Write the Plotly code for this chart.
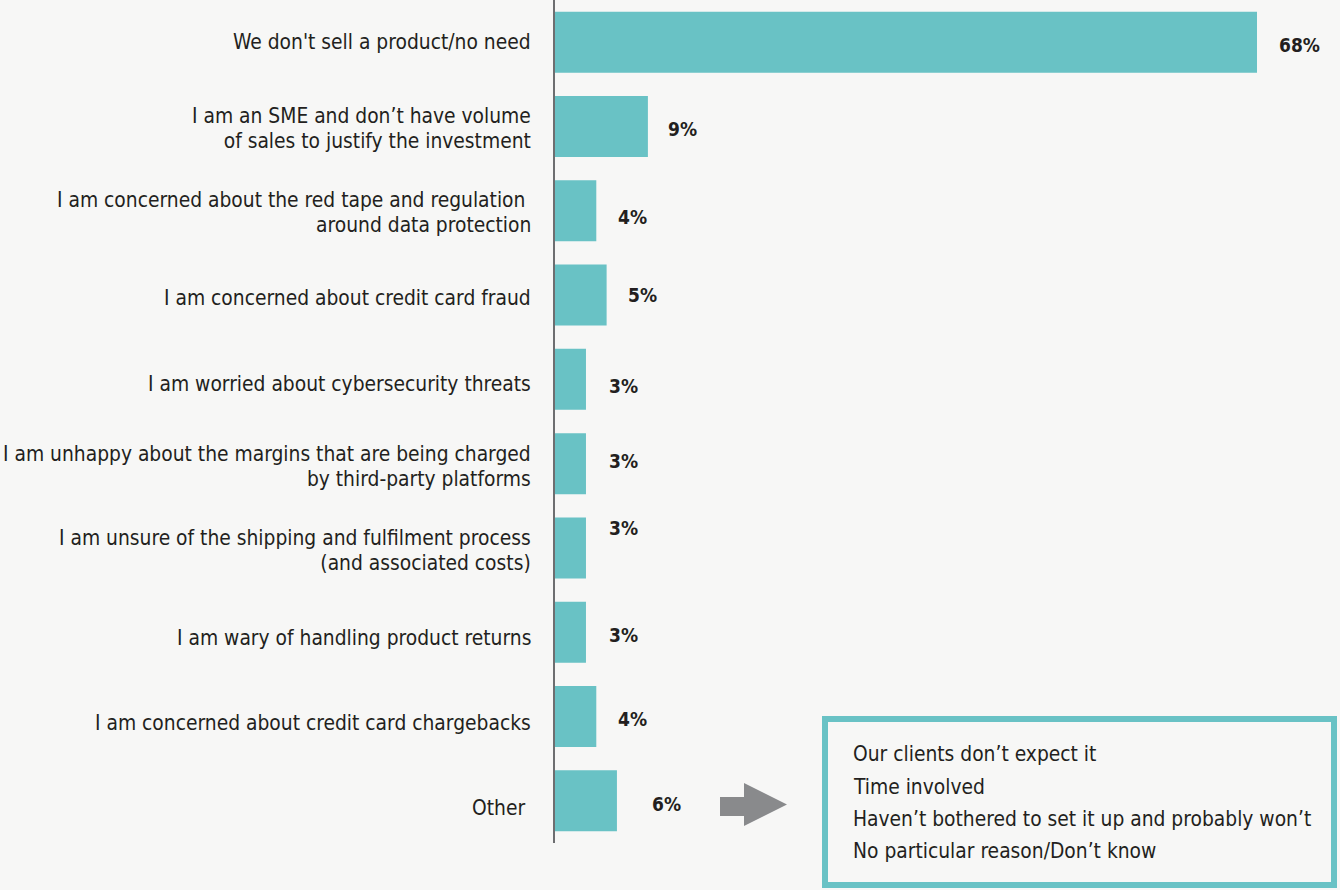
import plotly.graph_objects as go

categories = [
    "We don't sell a product/no need",
    "I am an SME and don\u2019t have volume<br>of sales to justify the investment",
    "I am concerned about the red tape and regulation\u00a0<br>around data protection",
    "I am concerned about credit card fraud",
    "I am worried about cybersecurity threats",
    "I am unhappy about the margins that are being charged<br>by third-party platforms",
    "I am unsure of the shipping and fulfilment process<br>(and associated costs)",
    "I am wary of handling product returns",
    "I am concerned about credit card chargebacks",
    "Other\u00a0",
]
values = [68, 9, 4, 5, 3, 3, 3, 3, 4, 6]
value_labels = ["68%", "9%", "4%", "5%", "3%", "3%", "3%", "3%", "4%", "6%"]
other_reasons = [
    "Our clients don\u2019t expect it",
    "Time involved",
    "Haven\u2019t bothered to set it up and probably won\u2019t",
    "No particular reason/Don\u2019t know",
]

# style: label offsets (pixels)
label_xshift = [20, 18, 20, 19, 21, 21, 21, 21, 20, 33]
label_yshift = [-3, -3, -6, 0, -7, 3, 20, -3, -2, -3]
cat_yshift = [0, -2, -2, -3, -5, -3, -3, -6, -6, -7]

W, H = 1340, 890
ML, MR, MT, MB = 555, 0, 0, 47
PW, PH = W - ML - MR, H - MT - MB
TEAL = "#69c2c5"
TXT = "#231f20"
BG = "#f7f7f6"
FONT = "DejaVu Sans Condensed, Roboto, sans-serif"
CAT_SIZE = 20.8
LINE_BASE = 18.9  # controls spacing between wrapped lines (1.3 * this)


def px(x):
    return (x - ML) / PW


def py(y):
    return (H - MB - y) / PH


ypos = list(range(len(categories)))

fig = go.Figure(
    go.Bar(
        x=values,
        y=ypos,
        orientation="h",
        marker=dict(color=TEAL, line=dict(width=0)),
        hoverinfo="skip",
    )
)

# category labels
for i, cat in enumerate(categories):
    lines = cat.split("<br>")
    n = len(lines)
    txt = "<br>".join(f'<span style="font-size:{CAT_SIZE}px">{ln}</span>' for ln in lines)
    fig.add_annotation(
        xref="paper", yref="y", x=px(533), y=ypos[i], text=txt,
        showarrow=False, xanchor="right", yanchor="middle", align="right",
        yshift=cat_yshift[i],
        font=dict(size=LINE_BASE if n > 1 else CAT_SIZE, color=TXT, family=FONT),
    )

for i, (v, t) in enumerate(zip(values, value_labels)):
    fig.add_annotation(
        x=v, y=ypos[i], text=f"<b>{t}</b>", showarrow=False,
        xanchor="left", yanchor="middle",
        xshift=label_xshift[i], yshift=label_yshift[i],
        font=dict(size=19, color=TXT, family=FONT),
    )

# box with other reasons
fig.add_shape(
    type="rect", xref="paper", yref="paper",
    x0=px(825), x1=px(1334), y0=py(885), y1=py(719),
    line=dict(color=TEAL, width=6), fillcolor=BG, layer="above",
)
for k, txt in enumerate(other_reasons):
    fig.add_annotation(
        xref="paper", yref="paper", x=px(851), y=py(754 + 32.5 * k),
        text=txt, showarrow=False, xanchor="left", yanchor="middle",
        font=dict(size=20.8, color=TXT, family=FONT),
    )

# arrow
pts = [(720, 797), (744, 797), (744, 783), (787, 804.5), (744, 826), (744, 816), (720, 816)]
path = "M " + " L ".join(f"{px(a):.5f},{py(b):.5f}" for a, b in pts) + " Z"
fig.add_shape(
    type="path", xref="paper", yref="paper", path=path,
    fillcolor="#898a8c", line=dict(width=0), layer="above",
)

fig.update_layout(
    width=W, height=H,
    margin=dict(l=ML, r=MR, t=MT, b=MB, pad=0),
    paper_bgcolor=BG, plot_bgcolor=BG,
    bargap=0.276,
    showlegend=False,
    font=dict(family=FONT, color=TXT, size=18),
    xaxis=dict(range=[0, PW / 10.3235], showgrid=False, zeroline=False,
               showticklabels=False, showline=False, fixedrange=True),
    yaxis=dict(
        range=[len(categories) - 0.5, -0.5],
        tickvals=ypos, showticklabels=False,
        showgrid=False, zeroline=False,
        showline=True, linecolor="#6d6e70", linewidth=2,
        ticks="", fixedrange=True,
    ),
)

fig.write_html("out.html")
